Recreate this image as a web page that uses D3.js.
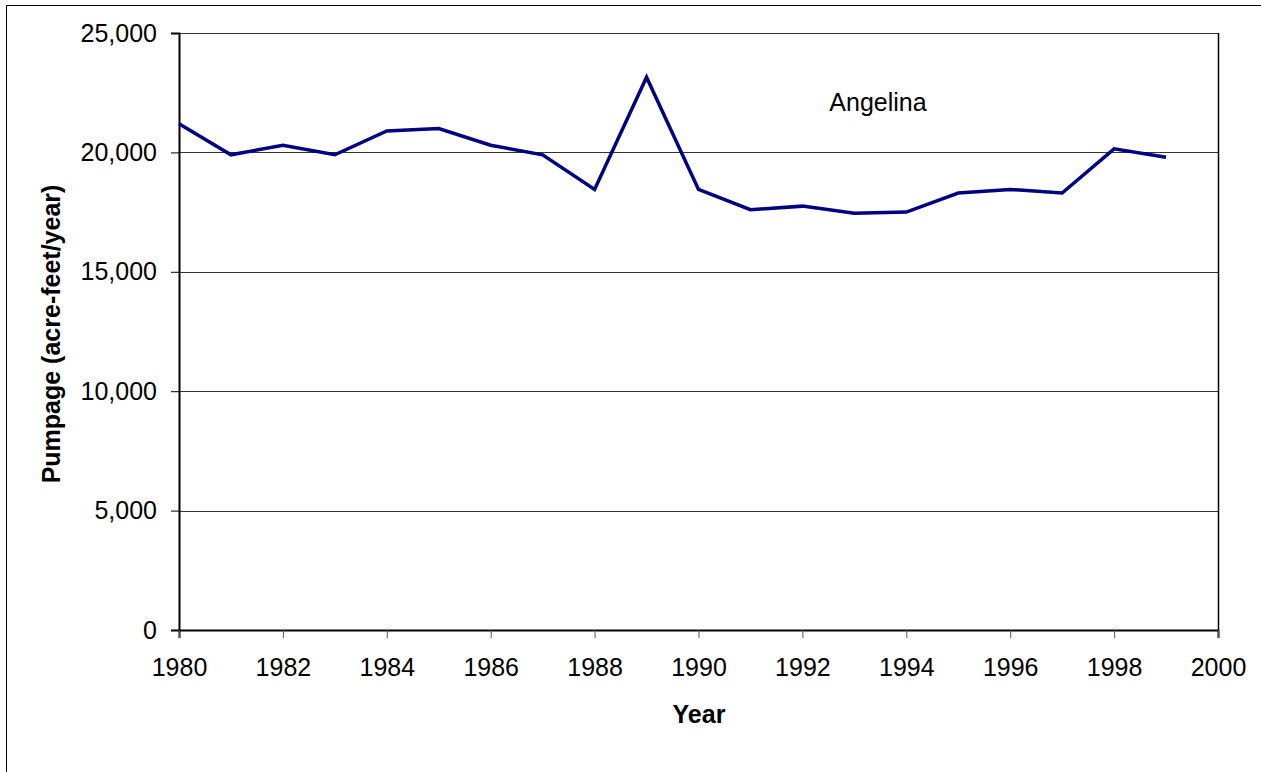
<!DOCTYPE html>
<html><head><meta charset="utf-8">
<script src="https://cdn.jsdelivr.net/npm/d3@7"></script>
<style>body{margin:0;background:#fff}svg{display:block}text{font-family:"Liberation Sans",Arial,sans-serif}</style>
</head><body>
<script>
const years = [1980,1981,1982,1983,1984,1985,1986,1987,1988,1989,1990,1991,1992,1993,1994,1995,1996,1997,1998,1999];
const pumpage = [21200,19900,20300,19900,20900,21000,20300,19900,18450,23150,18450,17600,17750,17450,17500,18300,18450,18300,20150,19800];
const yTicks = [0,5000,10000,15000,20000,25000];
const xTicks = [1980,1982,1984,1986,1988,1990,1992,1994,1996,1998,2000];
const seriesName = "Angelina";

const W=1261,H=772;
const svg=d3.select("body").append("svg").attr("width",W).attr("height",H);
svg.append("rect").attr("x",6.5).attr("y",5.5).attr("width",W+10).attr("height",H+10).attr("fill","none").attr("stroke","#000").attr("stroke-width",1);
const L=179,R=1218,T=33,B=630;
const x=d3.scaleLinear().domain([1980,2000]).range([L,R]);
const y=d3.scaleLinear().domain([0,25000]).range([B,T]);

const g=svg.append("g");
g.selectAll("line.grid").data(yTicks.filter(d=>d>0)).join("line")
 .attr("x1",L).attr("x2",R).attr("y1",d=>Math.round(y(d))+0.5).attr("y2",d=>Math.round(y(d))+0.5)
 .attr("stroke","#333").attr("stroke-width",1);
g.append("line").attr("x1",R+0.5).attr("x2",R+0.5).attr("y1",T).attr("y2",B).attr("stroke","#000").attr("stroke-width",1.5);

const yAxis=d3.axisLeft(y).tickValues(yTicks).tickSize(8).tickPadding(14).tickFormat(d3.format(","));
const ya=svg.append("g").attr("transform",`translate(${L},0)`).call(yAxis);
ya.select(".domain").attr("stroke","#000").attr("stroke-width",2);
ya.selectAll(".tick line").attr("stroke","#000");
ya.selectAll("text").attr("font-size",25).attr("fill","#000").attr("font-family","Liberation Sans, Arial, sans-serif");

const xAxis=d3.axisBottom(x).tickValues(xTicks).tickSize(8).tickPadding(20).tickFormat(d3.format("d"));
const xa=svg.append("g").attr("transform",`translate(0,${B})`).call(xAxis);
xa.select(".domain").attr("stroke","#000").attr("stroke-width",2);
xa.selectAll(".tick line").attr("stroke","#555");
xa.selectAll("text").attr("font-size",25).attr("fill","#000").attr("font-family","Liberation Sans, Arial, sans-serif");

const line=d3.line().x((d,i)=>x(years[i])).y(d=>y(d));
svg.append("path").datum(pumpage).attr("d",line).attr("fill","none").attr("stroke","#000080").attr("stroke-width",3.5).attr("stroke-linejoin","miter");

svg.append("text").attr("x",878).attr("y",111).attr("text-anchor","middle").attr("font-size",25).text(seriesName);
svg.append("text").attr("x",699).attr("y",723).attr("text-anchor","middle").attr("font-size",25).attr("font-weight","bold").text("Year");
svg.append("text").attr("transform","translate(60,334) rotate(-90)").attr("text-anchor","middle").attr("font-size",25).attr("font-weight","bold").text("Pumpage (acre-feet/year)");
</script>
</body></html>
